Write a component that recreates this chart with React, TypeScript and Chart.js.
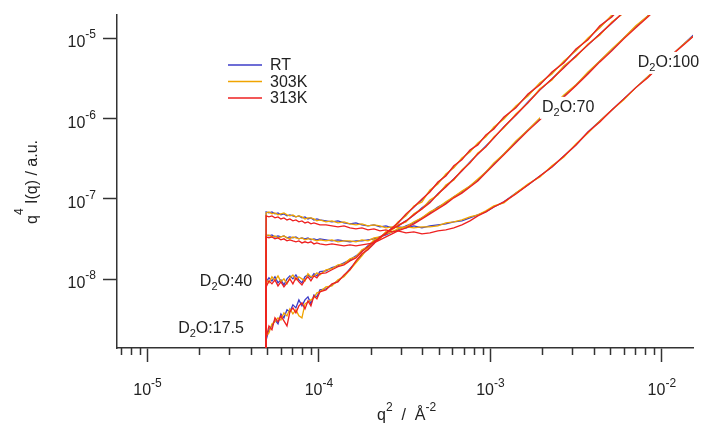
import React, { useEffect, useRef } from 'react';
import { Chart, registerables } from 'chart.js';
Chart.register(...registerables);

// q^2 grid (Å^-2); first entry is the cut-off point of every measurement
const Q2 = [4.90e-5, 4.92e-5, 5.11e-5, 5.32e-5, 5.54e-5, 5.77e-5, 6.00e-5, 6.25e-5, 6.51e-5, 6.77e-5, 7.05e-5, 7.34e-5, 7.64e-5, 7.96e-5, 8.29e-5, 8.63e-5, 8.98e-5, 9.35e-5, 9.73e-5, 1.013e-4,
  1.099e-4, 1.191e-4, 1.291e-4, 1.40e-4, 1.517e-4, 1.644e-4, 1.782e-4, 1.932e-4, 2.094e-4, 2.27e-4, 2.46e-4, 2.67e-4, 2.89e-4,
  3.22e-4, 3.58e-4, 3.99e-4, 4.44e-4, 4.94e-4, 5.50e-4, 6.12e-4, 6.82e-4, 7.60e-4, 8.45e-4, 9.41e-4, 1.048e-3,
  1.199e-3, 1.409e-3, 1.656e-3, 1.945e-3, 2.285e-3, 2.685e-3, 3.155e-3, 3.71e-3, 4.35e-3, 5.11e-3, 6.00e-3, 7.05e-3, 8.28e-3, 9.73e-3, 1.143e-2, 1.343e-2, 1.578e-2];

// q^4 I(q) (a.u.)
const D100_RT = [1e-10, 6.89e-8, 6.70e-8, 6.89e-8, 6.51e-8, 6.70e-8, 6.32e-8, 6.51e-8, 6.14e-8, 6.32e-8, 6.14e-8, 5.97e-8, 6.14e-8, 5.80e-8, 5.97e-8, 5.63e-8, 5.80e-8, 5.47e-8, 5.63e-8, 5.47e-8,
  5.32e-8, 5.17e-8, 5.32e-8, 5.02e-8, 4.88e-8, 5.02e-8, 4.74e-8, 4.61e-8, 4.74e-8, 4.48e-8, 4.61e-8, 4.35e-8, 4.48e-8,
  4.35e-8, 4.61e-8, 4.35e-8, 4.61e-8, 4.74e-8, 4.88e-8, 5.17e-8, 5.32e-8, 5.80e-8, 6.32e-8, 6.89e-8, 7.93e-8,
  9.18e-8, 1.18e-7, 1.49e-7, 1.93e-7, 2.50e-7, 3.43e-7, 4.70e-7, 6.82e-7, 9.36e-7, 1.28e-6, 1.76e-6, 2.43e-6, 3.32e-6, 4.54e-6, 6.21e-6, 8.52e-6, 1.17e-5];
const D100_303K = [1e-10, 6.70e-8, 6.89e-8, 6.51e-8, 6.70e-8, 6.32e-8, 6.51e-8, 6.70e-8, 6.32e-8, 6.14e-8, 6.32e-8, 5.97e-8, 6.14e-8, 5.97e-8, 5.63e-8, 5.80e-8, 5.80e-8, 5.63e-8, 5.32e-8, 5.47e-8,
  5.17e-8, 5.32e-8, 5.02e-8, 5.17e-8, 4.88e-8, 4.74e-8, 4.88e-8, 4.61e-8, 4.74e-8, 4.61e-8, 4.35e-8, 4.48e-8, 4.35e-8,
  4.48e-8, 4.35e-8, 4.48e-8, 4.48e-8, 4.61e-8, 5.02e-8, 5.17e-8, 5.47e-8, 5.97e-8, 6.32e-8, 7.09e-8, 8.18e-8,
  8.92e-8, 1.18e-7, 1.53e-7, 1.88e-7, 2.58e-7, 3.33e-7, 4.84e-7, 6.63e-7, 9.36e-7, 1.28e-6, 1.71e-6, 2.43e-6, 3.32e-6, 4.54e-6, 6.21e-6, 8.52e-6, 1.13e-5];
const D100_313K = [1e-10, 6.14e-8, 5.97e-8, 6.14e-8, 5.80e-8, 5.97e-8, 5.63e-8, 5.80e-8, 5.47e-8, 5.63e-8, 5.32e-8, 5.47e-8, 5.17e-8, 5.32e-8, 5.02e-8, 5.17e-8, 4.88e-8, 5.02e-8, 4.88e-8, 4.74e-8,
  4.74e-8, 4.61e-8, 4.48e-8, 4.61e-8, 4.35e-8, 4.23e-8, 4.35e-8, 4.11e-8, 4.23e-8, 3.99e-8, 4.11e-8, 3.88e-8, 3.99e-8,
  3.77e-8, 3.88e-8, 3.66e-8, 3.77e-8, 3.99e-8, 4.11e-8, 4.35e-8, 4.74e-8, 5.32e-8, 6.14e-8, 6.89e-8, 7.93e-8,
  9.18e-8, 1.15e-7, 1.49e-7, 1.93e-7, 2.50e-7, 3.43e-7, 4.70e-7, 6.82e-7, 9.09e-7, 1.28e-6, 1.76e-6, 2.43e-6, 3.23e-6, 4.54e-6, 6.21e-6, 8.28e-6, 1.13e-5];

const D70_RT = [1e-10, 3.56e-8, 3.46e-8, 3.56e-8, 3.36e-8, 3.46e-8, 3.36e-8, 3.46e-8, 3.27e-8, 3.36e-8, 3.27e-8, 3.36e-8, 3.18e-8, 3.27e-8, 3.18e-8, 3.27e-8, 3.09e-8, 3.18e-8, 3.09e-8, 3.18e-8,
  3.09e-8, 3.00e-8, 3.09e-8, 3.00e-8, 2.92e-8, 3.00e-8, 3.00e-8, 3.09e-8, 3.18e-8, 3.36e-8, 3.56e-8, 3.88e-8, 4.11e-8,
  4.61e-8, 5.02e-8, 5.80e-8, 6.70e-8, 7.93e-8, 8.92e-8, 1.06e-7, 1.22e-7, 1.45e-7, 1.72e-7, 2.17e-7, 2.73e-7,
  3.63e-7, 5.13e-7, 7.23e-7, 9.91e-7, 1.40e-6, 1.91e-6, 2.63e-6, 3.71e-6, 5.23e-6, 7.17e-6, 1.01e-5, 1.39e-5, 1.90e-5, 2.61e-5, 3.57e-5];
const D70_303K = [1e-10, 3.46e-8, 3.56e-8, 3.36e-8, 3.46e-8, 3.27e-8, 3.36e-8, 3.46e-8, 3.27e-8, 3.18e-8, 3.36e-8, 3.27e-8, 3.18e-8, 3.27e-8, 3.09e-8, 3.18e-8, 3.18e-8, 3.09e-8, 3.00e-8, 3.09e-8,
  3.00e-8, 3.09e-8, 2.92e-8, 3.00e-8, 3.00e-8, 2.92e-8, 3.09e-8, 3.00e-8, 3.27e-8, 3.36e-8, 3.66e-8, 3.88e-8, 4.23e-8,
  4.48e-8, 5.17e-8, 5.80e-8, 6.89e-8, 7.73e-8, 9.18e-8, 1.06e-7, 1.25e-7, 1.45e-7, 1.77e-7, 2.17e-7, 2.81e-7,
  3.63e-7, 5.28e-7, 7.23e-7, 1.02e-6, 1.40e-6, 1.97e-6, 2.63e-6, 3.81e-6, 5.23e-6, 7.38e-6, 1.01e-5, 1.43e-5, 1.90e-5, 2.69e-5, 3.57e-5];
const D70_313K = [1e-10, 3.36e-8, 3.27e-8, 3.36e-8, 3.18e-8, 3.27e-8, 3.09e-8, 3.18e-8, 3.00e-8, 3.09e-8, 3.00e-8, 2.92e-8, 3.00e-8, 2.83e-8, 2.92e-8, 2.83e-8, 2.92e-8, 2.75e-8, 2.83e-8, 2.75e-8,
  2.67e-8, 2.75e-8, 2.67e-8, 2.60e-8, 2.67e-8, 2.60e-8, 2.67e-8, 2.75e-8, 2.83e-8, 3.09e-8, 3.36e-8, 3.66e-8, 3.99e-8,
  4.35e-8, 4.88e-8, 5.63e-8, 6.51e-8, 7.51e-8, 8.67e-8, 1.03e-7, 1.18e-7, 1.41e-7, 1.67e-7, 2.11e-7, 2.65e-7,
  3.53e-7, 4.98e-7, 7.03e-7, 9.63e-7, 1.36e-6, 1.86e-6, 2.56e-6, 3.60e-6, 5.08e-6, 6.97e-6, 9.83e-6, 1.35e-5, 1.84e-5, 2.54e-5, 3.47e-5];

const D40_RT = [1e-10, 9.25e-9, 1.04e-8, 9.52e-9, 1.07e-8, 8.99e-9, 9.80e-9, 8.49e-9, 1.01e-8, 1.10e-8, 1.01e-8, 1.13e-8, 9.80e-9, 8.99e-9, 1.07e-8, 1.13e-8, 1.04e-8, 1.17e-8, 1.10e-8, 1.24e-8,
  1.27e-8, 1.39e-8, 1.47e-8, 1.60e-8, 1.74e-8, 1.95e-8, 2.25e-8, 2.60e-8, 3.00e-8, 3.36e-8, 3.77e-8, 4.23e-8, 4.61e-8,
  5.32e-8, 6.32e-8, 7.73e-8, 9.18e-8, 1.15e-7, 1.45e-7, 1.77e-7, 2.24e-7, 2.89e-7, 3.63e-7, 4.57e-7, 5.75e-7,
  7.88e-7, 1.11e-6, 1.61e-6, 2.28e-6, 3.12e-6, 4.41e-6, 6.03e-6, 8.28e-6, 1.13e-5, 1.55e-5, 2.13e-5, 2.92e-5, 4.0e-5];
const D40_303K = [1e-10, 9.80e-9, 8.99e-9, 1.07e-8, 9.52e-9, 1.10e-8, 9.25e-9, 1.01e-8, 8.74e-9, 1.04e-8, 1.13e-8, 9.80e-9, 1.07e-8, 1.01e-8, 9.52e-9, 1.17e-8, 1.07e-8, 1.10e-8, 1.20e-8, 1.13e-8,
  1.31e-8, 1.35e-8, 1.51e-8, 1.55e-8, 1.79e-8, 1.90e-8, 2.32e-8, 2.53e-8, 3.09e-8, 3.27e-8, 3.88e-8, 4.11e-8, 4.74e-8,
  5.17e-8, 6.51e-8, 7.51e-8, 9.72e-8, 1.12e-7, 1.49e-7, 1.72e-7, 2.30e-7, 2.81e-7, 3.74e-7, 4.44e-7, 5.92e-7,
  7.66e-7, 1.14e-6, 1.57e-6, 2.35e-6, 3.03e-6, 4.54e-6, 5.86e-6, 8.52e-6, 1.10e-5, 1.60e-5, 2.07e-5, 3.01e-5, 4.0e-5];
const D40_313K = [1e-10, 8.02e-9, 9.52e-9, 8.74e-9, 9.80e-9, 8.25e-9, 9.25e-9, 8.02e-9, 8.99e-9, 1.01e-8, 8.74e-9, 1.04e-8, 9.25e-9, 8.49e-9, 9.80e-9, 1.07e-8, 9.52e-9, 1.10e-8, 1.04e-8, 1.17e-8,
  1.20e-8, 1.31e-8, 1.43e-8, 1.51e-8, 1.69e-8, 1.84e-8, 2.19e-8, 2.53e-8, 2.92e-8, 3.27e-8, 3.77e-8, 4.23e-8, 4.61e-8,
  5.32e-8, 6.32e-8, 7.51e-8, 8.92e-8, 1.15e-7, 1.41e-7, 1.77e-7, 2.24e-7, 2.81e-7, 3.63e-7, 4.44e-7, 5.76e-7,
  7.88e-7, 1.11e-6, 1.57e-6, 2.28e-6, 3.12e-6, 4.28e-6, 6.03e-6, 8.28e-6, 1.13e-5, 1.55e-5, 2.13e-5, 2.92e-5, 4.0e-5];

const D17_RT = [1e-10, 1.75e-9, 2.34e-9, 2.62e-9, 3.11e-9, 2.78e-9, 3.70e-9, 3.30e-9, 4.15e-9, 3.92e-9, 4.79e-9, 4.39e-9, 5.52e-9, 4.65e-9, 5.52e-9, 6.02e-9, 4.93e-9, 6.37e-9, 6.02e-9, 7.36e-9,
  7.57e-9, 8.49e-9, 9.52e-9, 1.10e-8, 1.35e-8, 1.64e-8, 2.01e-8, 2.39e-8, 2.83e-8, 3.27e-8, 3.77e-8, 4.35e-8, 5.02e-8,
  6.32e-8, 7.93e-8, 9.72e-8, 1.25e-7, 1.58e-7, 1.99e-7, 2.50e-7, 3.15e-7, 3.95e-7, 4.84e-7, 6.09e-7, 7.66e-7,
  1.02e-6, 1.40e-6, 1.97e-6, 2.71e-6, 3.71e-6, 5.08e-6, 7.17e-6, 9.83e-6, 1.39e-5, 1.90e-5, 2.61e-5, 3.57e-5];
const D17_303K = [1e-10, 1.97e-9, 2.15e-9, 2.78e-9, 2.94e-9, 3.30e-9, 3.11e-9, 3.81e-9, 3.49e-9, 4.27e-9, 3.70e-9, 4.15e-9, 3.49e-9, 3.30e-9, 4.93e-9, 5.21e-9, 5.52e-9, 5.85e-9, 6.75e-9, 6.95e-9,
  8.02e-9, 8.25e-9, 9.80e-9, 1.07e-8, 1.31e-8, 1.60e-8, 1.95e-8, 2.45e-8, 2.92e-8, 3.18e-8, 3.88e-8, 4.23e-8, 5.17e-8,
  6.14e-8, 8.18e-8, 9.18e-8, 1.29e-7, 1.53e-7, 2.05e-7, 2.44e-7, 3.24e-7, 3.84e-7, 4.98e-7, 5.92e-7, 7.88e-7,
  9.91e-7, 1.44e-6, 1.91e-6, 2.79e-6, 3.60e-6, 5.23e-6, 6.97e-6, 1.01e-5, 1.35e-5, 1.95e-5, 2.61e-5, 3.57e-5];
const D17_313K = [1e-10, 1.86e-9, 2.62e-9, 2.34e-9, 3.30e-9, 2.94e-9, 3.49e-9, 3.02e-9, 2.62e-9, 3.92e-9, 4.39e-9, 3.81e-9, 4.65e-9, 5.06e-9, 4.27e-9, 5.36e-9, 4.65e-9, 6.19e-9, 5.68e-9, 6.95e-9,
  7.36e-9, 8.74e-9, 9.25e-9, 1.13e-8, 1.31e-8, 1.69e-8, 2.07e-8, 2.32e-8, 2.75e-8, 3.36e-8, 3.66e-8, 4.35e-8, 5.02e-8,
  6.51e-8, 7.93e-8, 1.00e-7, 1.22e-7, 1.62e-7, 1.93e-7, 2.58e-7, 3.06e-7, 4.07e-7, 4.70e-7, 6.27e-7, 7.44e-7,
  1.05e-6, 1.36e-6, 2.03e-6, 2.63e-6, 3.81e-6, 4.95e-6, 7.38e-6, 9.55e-6, 1.43e-5, 1.84e-5, 2.69e-5, 3.57e-5];

const SERIES_LABELS = ['RT', '303K', '313K'];
const SAMPLE_LABELS = ['17.5', '40', '70', '100'];
const X_TICKS = [1e-5, 1e-4, 1e-3, 1e-2];
const X_TICK_EXP = ['-5', '-4', '-3', '-2'];
const X_MINOR_TICKS = [7e-6, 8e-6, 9e-6, 2e-5, 3e-5, 4e-5, 5e-5, 6e-5, 7e-5, 8e-5, 9e-5, 2e-4, 3e-4, 4e-4, 5e-4, 6e-4, 7e-4, 8e-4, 9e-4, 2e-3, 3e-3, 4e-3, 5e-3, 6e-3, 7e-3, 8e-3, 9e-3];
const Y_TICKS = [1e-8, 1e-7, 1e-6, 1e-5];
const Y_TICK_EXP = ['-8', '-7', '-6', '-5'];
const X_MIN = 6.64e-6;
const X_MAX = 1.52e-2;
const Y_MIN = 1.39e-9;
const Y_MAX = 1.95e-5;

const COLORS = ['#3c3cc8', '#f0a400', '#ee2020'];
const AXIS = '#333333';
const TEXT = '#222222';
const FAMILY = '"Liberation Sans", Arial, Helvetica, sans-serif';

type Part = [string, number, number];

function drawRich(ctx: CanvasRenderingContext2D, parts: Part[], x: number, y: number) {
  let cx = x;
  for (const [t, size, dy] of parts) {
    ctx.font = `${size}px ${FAMILY}`;
    ctx.fillText(t, cx, y + dy);
    cx += ctx.measureText(t).width;
  }
  return cx - x;
}

function measureRich(ctx: CanvasRenderingContext2D, parts: Part[]) {
  let w = 0;
  for (const [t, size] of parts) {
    ctx.font = `${size}px ${FAMILY}`;
    w += ctx.measureText(t).width;
  }
  return w;
}

// annotation anchors in data coordinates (left edge, vertical centre)
const ANNOT_POS = [
  { x: 1.51e-5, y: 2.55e-9 },
  { x: 2.02e-5, y: 9.8e-9 },
  { x: 2.0e-3, y: 1.44e-6 },
  { x: 7.24e-3, y: 5.23e-6 },
];

const overlayPlugin = {
  id: 'overlay',
  afterDatasetsDraw(chart: any) {
    const { ctx, scales } = chart;
    const xs = scales.x;
    const ys = scales.y;
    ctx.save();
    ctx.textBaseline = 'alphabetic';
    ctx.textAlign = 'left';
    SAMPLE_LABELS.forEach((name, i) => {
      const parts: Part[] = [['D', 16, 0], ['2', 11, 4], ['O:' + name, 16, 0]];
      const px = xs.getPixelForValue(ANNOT_POS[i].x);
      const py = ys.getPixelForValue(ANNOT_POS[i].y);
      const base = py + 6;
      const w = measureRich(ctx, parts);
      ctx.fillStyle = '#ffffff';
      ctx.fillRect(px - 2, base - 15, w + 4, 22);
      ctx.fillStyle = TEXT;
      drawRich(ctx, parts, px, base);
    });
    ctx.restore();
  },
  afterDraw(chart: any) {
    const { ctx, scales } = chart;
    const xs = scales.x;
    const ys = scales.y;
    ctx.save();
    // minor ticks on x axis
    ctx.strokeStyle = AXIS;
    ctx.lineWidth = 1.5;
    ctx.beginPath();
    for (const v of X_MINOR_TICKS) {
      const px = Math.round(xs.getPixelForValue(v)) + 0.5;
      ctx.moveTo(px, xs.top);
      ctx.lineTo(px, xs.top + 7);
    }
    ctx.stroke();

    // tick labels: 10 with raised exponent
    ctx.fillStyle = TEXT;
    ctx.textBaseline = 'alphabetic';
    ctx.textAlign = 'left';
    X_TICKS.forEach((v, i) => {
      const parts: Part[] = [['10', 16, 0], [X_TICK_EXP[i], 12, -8]];
      const w = measureRich(ctx, parts);
      const px = xs.getPixelForValue(v);
      drawRich(ctx, parts, px - w / 2, xs.top + 47);
    });
    Y_TICKS.forEach((v, i) => {
      const parts: Part[] = [['10', 16, 0], [Y_TICK_EXP[i], 12, -9]];
      const w = measureRich(ctx, parts);
      const py = ys.getPixelForValue(v);
      drawRich(ctx, parts, ys.right - 21 - w, py + 9);
    });

    // legend
    ctx.textBaseline = 'middle';
    ctx.font = `16px ${FAMILY}`;
    SERIES_LABELS.forEach((lab, i) => {
      const y = 65 + i * 16.5;
      ctx.strokeStyle = COLORS[i];
      ctx.lineWidth = 1.5;
      ctx.beginPath();
      ctx.moveTo(228, y);
      ctx.lineTo(262, y);
      ctx.stroke();
      ctx.fillStyle = TEXT;
      ctx.fillText(lab, 270, y + 1);
    });

    // axis titles
    ctx.fillStyle = TEXT;
    ctx.textBaseline = 'alphabetic';
    drawRich(ctx, [['q', 16, 0], ['2', 12, -9], ['  /  ', 16, 0], ['\u00C5', 16, 0], ['-2', 12, -9]], 377, 420);

    ctx.save();
    ctx.translate(37, 224);
    ctx.rotate(-Math.PI / 2);
    drawRich(ctx, [['q', 16, 0], ['4', 12, -14], [' I(q) / a.u.', 16, 0]], 0, 0);
    ctx.restore();

    ctx.restore();
  },
};

export default function App() {
  const ref = useRef<HTMLCanvasElement>(null);
  useEffect(() => {
    const canvas = ref.current;
    if (!canvas) return;
    const groups = [
      [D17_RT, D17_303K, D17_313K],
      [D40_RT, D40_303K, D40_313K],
      [D70_RT, D70_303K, D70_313K],
      [D100_RT, D100_303K, D100_313K],
    ];
    const datasets: any[] = [];
    groups.forEach((g, si) => {
      g.forEach((arr, ti) => {
        datasets.push({
          label: `D2O:${SAMPLE_LABELS[si]} ${SERIES_LABELS[ti]}`,
          data: arr.map((v, i) => ({ x: Q2[i], y: v })),
          borderColor: COLORS[ti],
          backgroundColor: COLORS[ti],
          borderWidth: 1.3,
          pointRadius: 0,
          tension: 0,
          fill: false,
          order: 2 - ti,
        });
      });
    });
    const chart = new Chart(canvas, {
      type: 'line',
      data: { datasets },
      options: {
        responsive: false,
        animation: false,
        events: [],
        layout: { padding: { top: 15, right: 14, left: 0, bottom: 0 } },
        plugins: { legend: { display: false }, tooltip: { enabled: false } },
        scales: {
          x: {
            type: 'logarithmic',
            position: 'bottom',
            min: X_MIN,
            max: X_MAX,
            afterBuildTicks: (s: any) => { s.ticks = X_TICKS.map((v) => ({ value: v, major: true })); },
            afterFit: (s: any) => { s.height = 75; },
            ticks: { display: false, autoSkip: false },
            grid: { drawOnChartArea: false, drawTicks: true, tickLength: 14, tickColor: AXIS, tickWidth: 1.5 },
            border: { display: true, color: AXIS, width: 1.5 },
          },
          y: {
            type: 'logarithmic',
            position: 'left',
            min: Y_MIN,
            max: Y_MAX,
            afterBuildTicks: (s: any) => { s.ticks = Y_TICKS.map((v) => ({ value: v, major: true })); },
            afterFit: (s: any) => { s.width = 117; },
            ticks: { display: false, autoSkip: false },
            grid: { drawOnChartArea: false, drawTicks: true, tickLength: 14, tickColor: AXIS, tickWidth: 1.5 },
            border: { display: true, color: AXIS, width: 1.5 },
          },
        },
      } as any,
      plugins: [overlayPlugin],
    });
    return () => chart.destroy();
  }, []);
  return (
    <div style={{ position: 'fixed', left: 0, top: 0, width: 707, height: 423, background: '#ffffff' }}>
      <canvas ref={ref} width={707} height={423} style={{ display: 'block' }} />
    </div>
  );
}
